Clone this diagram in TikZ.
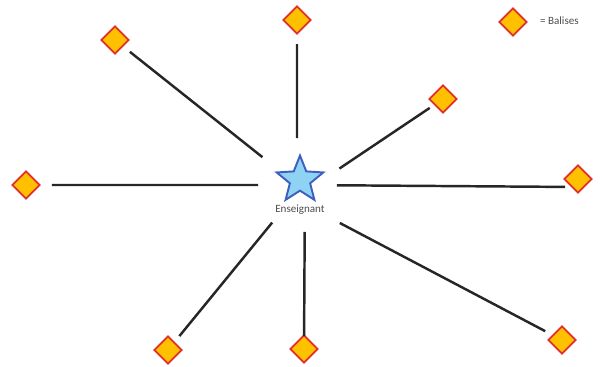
\documentclass[tikz,border=0pt]{standalone}
\usepackage{fontspec}
\setmainfont{Carlito}
\usetikzlibrary{shapes.geometric}
\definecolor{baliseFill}{HTML}{FFC000}
\definecolor{baliseEdge}{HTML}{E0302A}
\definecolor{profFill}{HTML}{8FD3F4}
\definecolor{profEdge}{HTML}{3F5FC0}

\begin{document}
\begin{tikzpicture}[
    x=0.02cm, y=-0.02cm,
    balise/.style = {
      diamond,
      draw=baliseEdge,
      fill=baliseFill,
      line width=1pt,
      inner sep=0pt,
      minimum width=0.56cm,
      minimum height=0.56cm
    },
    prof/.style = {
      star, star points=5, star point ratio=2.3,
      draw=profEdge,
      fill=profFill,
      line width=1.1pt,
      inner sep=0pt,
      minimum size=0.98cm
    },
    lbl/.style = {font=\fontsize{6.3}{7.5}\selectfont, text=black!70, inner sep=1pt},
    link/.style = {line width=1.4pt, draw=black!85}
  ]
\useasboundingbox (0,0) rectangle (602,366);

\node[prof] (ens) at (300,180) {};
\node[lbl] (ensLabel) at (300,210) {Enseignant};

\node[balise] (tl) at (115,40) {};
\node[balise] (top) at (297,20) {};
\node[balise] (ur) at (443,99) {};
\node[balise] (right) at (578,179) {};
\node[balise] (left) at (26,185) {};
\node[balise] (bl) at (168,350) {};
\node[balise] (bottom) at (304,349) {};
\node[balise] (br) at (562,340) {};

\node[balise] (legend) at (513,22) {};
\node[lbl, anchor=west] (legendText) at (538,21) {= Balises};

\draw[link, shorten <=0.96cm, shorten >=0.38cm] ([yshift=-0.14cm]ens.center) -- (tl.center);
\draw[link, shorten <=0.84cm, shorten >=0.48cm] ([xshift=-0.06cm]ens.center) -- (top.center);
\draw[link, shorten <=0.95cm, shorten >=0.32cm] ([yshift=-0.3cm]ens.center) -- (ur.center);
\draw[link, shorten <=0.74cm, shorten >=0.26cm] ([yshift=-0.1cm]ens.center) -- ([yshift=-0.16cm]right.center);
\draw[link, shorten <=0.84cm, shorten >=0.52cm] ([yshift=-0.1cm]ens.center) -- (left.center);
\draw[link, shorten <=1.1cm, shorten >=0.36cm] ([xshift=0.14cm]ens.center) -- (bl.center);
\draw[link, shorten <=1.04cm, shorten >=0.26cm] ([xshift=0.1cm]ens.center) -- (bottom.center);
\draw[link, shorten <=0.9cm, shorten >=0.38cm] ([yshift=-0.44cm]ens.center) -- (br.center);
\end{tikzpicture}
\end{document}
